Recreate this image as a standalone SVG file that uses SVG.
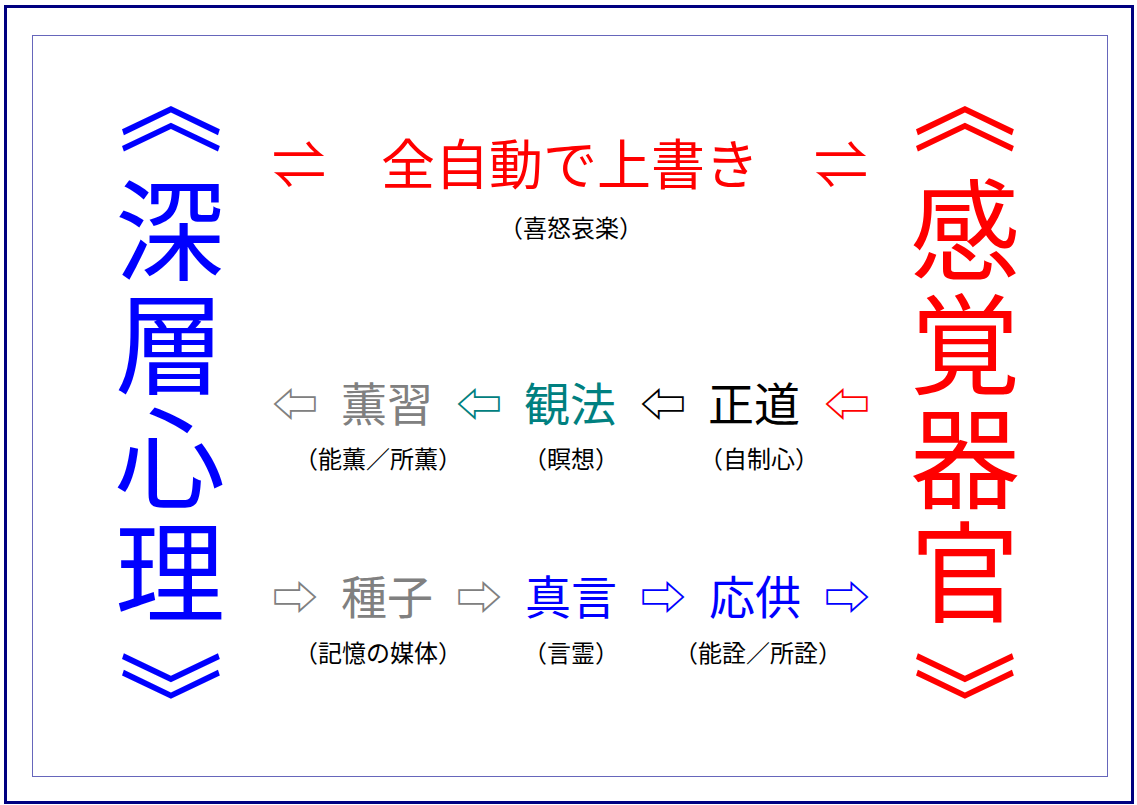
<svg xmlns="http://www.w3.org/2000/svg" width="1137" height="805" viewBox="0 0 1137 805">
<style>
text{font-family:"Noto Sans CJK JP","Noto Sans CJK SC",sans-serif;text-anchor:middle}
.col{font-size:110px;writing-mode:vertical-rl;text-anchor:start;letter-spacing:4px}
.brk{font-size:105px;dominant-baseline:central}
.blue{fill:#0000ff}
.red{fill:#ff0000}
.gray{fill:#808080}
.teal{fill:#008080}
.black{fill:#000000}
.row{font-size:46px}
.sub{font-size:24px;fill:#000}
.title{font-size:54px}
</style>
<rect x="0" y="0" width="1137" height="805" fill="#ffffff"/>
<rect x="5.5" y="6.5" width="1127" height="796" fill="none" stroke="#000080" stroke-width="3"/>
<rect x="32.5" y="35.5" width="1075" height="741" fill="none" stroke="#6666bb" stroke-width="1"/>
<g id="left-column" class="blue">
<text class="brk" transform="translate(177,103) rotate(90)">《</text>
<text class="col" x="170" y="175">深層心理</text>
<text class="brk" transform="translate(177,702) rotate(90)">》</text>
</g>
<g id="right-column" class="red">
<text class="brk" transform="translate(971,103) rotate(90)">《</text>
<text class="col" x="965" y="175">感覚器官</text>
<text class="brk" transform="translate(971,702) rotate(90)">》</text>
</g>
<g id="top" class="red">
<text class="title" x="570" y="185">全自動で上書き</text>
<text class="sub" x="571" y="237">（喜怒哀楽）</text>
</g>
<g id="connectors">
<text class="title red" x="299" y="185">⇌</text>
<text class="title red" x="841" y="185">⇌</text>
<text class="row gray" x="295" y="421">⇦</text>
<text class="row teal" x="479" y="421">⇦</text>
<text class="row black" x="663" y="421">⇦</text>
<text class="row red" x="847" y="421">⇦</text>
<text class="row gray" x="295" y="614">⇨</text>
<text class="row gray" x="479" y="614">⇨</text>
<text class="row blue" x="663" y="614">⇨</text>
<text class="row blue" x="847" y="614">⇨</text>
</g>
<g id="kunju">
<text class="row gray" x="387" y="421">薫習</text>
<text class="sub" x="378" y="468">（能薫／所薫）</text>
</g>
<g id="kanpo">
<text class="row teal" x="570" y="421">観法</text>
<text class="sub" x="571" y="468">（瞑想）</text>
</g>
<g id="shodo">
<text class="row black" x="754" y="421">正道</text>
<text class="sub" x="759" y="468">（自制心）</text>
</g>
<g id="shuji">
<text class="row gray" x="387" y="614">種子</text>
<text class="sub" x="378" y="662">（記憶の媒体）</text>
</g>
<g id="shingon">
<text class="row blue" x="571" y="614">真言</text>
<text class="sub" x="571" y="662">（言霊）</text>
</g>
<g id="ogu">
<text class="row blue" x="755" y="614">応供</text>
<text class="sub" x="758" y="662">（能詮／所詮）</text>
</g>
</svg>
